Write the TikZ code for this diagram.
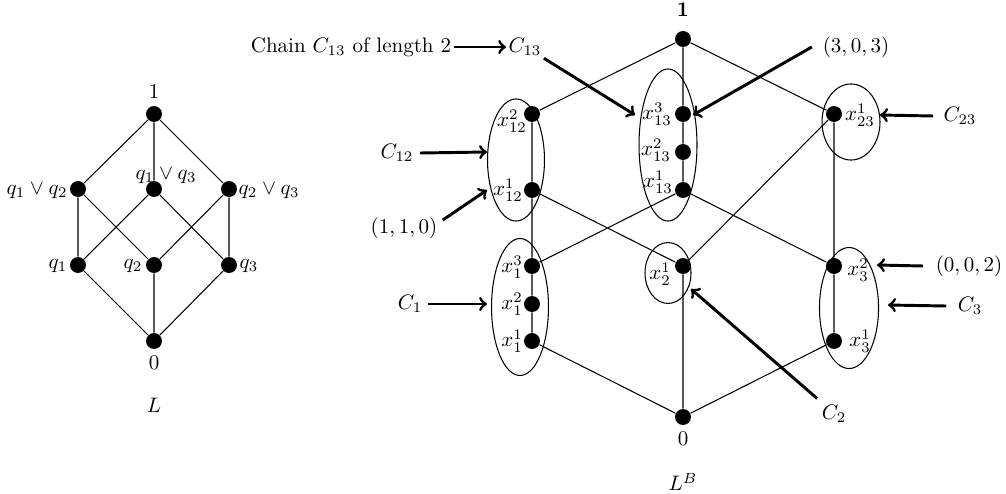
\documentclass[tikz,border=0pt]{standalone}
\usetikzlibrary{shapes.geometric}
\begin{document}
\begin{tikzpicture}[x=0.476pt,y=-0.476pt,
 dot/.style={circle,fill=black,inner sep=0pt,minimum size=7.6pt},
 ln/.style={line width=0.5pt},
 arr/.style={line width=1.4pt,->},
 chainell/.style={ellipse,draw,line width=0.5pt,inner sep=0pt},
 lab/.style={inner sep=1pt},
 xlab/.style={inner sep=0pt}]
\path[use as bounding box] (0,0) rectangle (1006,493);
% ---------------- left lattice L
\node[dot] (L1) at (154,114) {};
\node[dot] (L12) at (78,189) {};
\node[dot] (L13) at (154,189) {};
\node[dot] (L23) at (229,189) {};
\node[dot] (Lq1) at (78,265) {};
\node[dot] (Lq2) at (154,265) {};
\node[dot] (Lq3) at (229,265) {};
\node[dot] (L0) at (154,341) {};
\draw[ln] (L1) -- (L12) (L1) -- (L13) (L1) -- (L23)
 (L12) -- (Lq1) (L12) -- (Lq2) (L13) -- (Lq1) (L13) -- (Lq3)
 (L23) -- (Lq2) (L23) -- (Lq3)
 (Lq1) -- (L0) (Lq2) -- (L0) (Lq3) -- (L0);
\node[lab] (tL1) at (154,92) {$1$};
\node[xlab] (tL12) at (37,191) {$q_1\vee q_2$};
\node[xlab] (tL13) at (166,176) {$q_1\vee q_3$};
\node[xlab] (tL23) at (269,191) {$q_2\vee q_3$};
\node[xlab] (tq1) at (58,266) {$q_1$};
\node[xlab] (tq2) at (133,266) {$q_2$};
\node[xlab] (tq3) at (249,266) {$q_3$};
\node[lab] (tL0) at (154,363) {$0$};
\node[lab] (tL) at (154,405) {$L$};
% ---------------- right lattice L^B
\node[chainell,minimum width=27.1pt,minimum height=58.1pt] (E12) at (516,160) {};
\node[chainell,minimum width=27.6pt,minimum height=72.4pt] (E13) at (668,145) {};
\node[chainell,minimum width=27.6pt,minimum height=36.2pt] (E23) at (851,122) {};
\node[chainell,minimum width=27.1pt,minimum height=65.2pt] (E1) at (520,307) {};
\node[chainell,minimum width=21.9pt,minimum height=29.0pt] (E2) at (668,273) {};
\node[chainell,minimum width=28.1pt,minimum height=57.6pt] (E3) at (849,308) {};
\node[dot] (top) at (683,39) {};
\node[dot] (a2) at (532,114) {};
\node[dot] (a1) at (532,190) {};
\node[dot] (b3) at (683,114) {};
\node[dot] (b2) at (683,152) {};
\node[dot] (b1) at (683,190) {};
\node[dot] (c1) at (834,114) {};
\node[dot] (d3) at (532,266) {};
\node[dot] (d2) at (532,304) {};
\node[dot] (d1) at (532,341) {};
\node[dot] (e1) at (683,266) {};
\node[dot] (f2) at (834,266) {};
\node[dot] (f1) at (834,341) {};
\node[dot] (bot) at (683,417) {};
\draw[ln] (top) -- (a2) (top) -- (b3) (top) -- (c1)
 (a2) -- (a1) (a1) -- (d3) (d3) -- (d2) (d2) -- (d1)
 (b3) -- (b2) (b2) -- (b1) (c1) -- (f2) (f2) -- (f1)
 (e1) -- (bot) (a1) -- (e1) (d3) -- (b1) (b1) -- (f2) (e1) -- (c1)
 (d1) -- (bot) (f1) -- (bot);
\node[xlab] (ta2) at (512,121) {$x^2_{12}$};
\node[xlab] (ta1) at (508,190) {$x^1_{12}$};
\node[xlab] (tb3) at (657,114) {$x^3_{13}$};
\node[xlab] (tb2) at (656,150) {$x^2_{13}$};
\node[xlab] (tb1) at (658,182) {$x^1_{13}$};
\node[xlab] (tc1) at (860,115) {$x^1_{23}$};
\node[xlab] (td3) at (512,267) {$x^3_1$};
\node[xlab] (td2) at (512,304) {$x^2_1$};
\node[xlab] (td1) at (512,341) {$x^1_1$};
\node[xlab] (te1) at (660,274) {$x^1_2$};
\node[xlab] (tf2) at (858,270) {$x^2_3$};
\node[xlab] (tf1) at (860,341) {$x^1_3$};
\node[lab] (ttop) at (683,10) {$\mathbf{1}$};
\node[lab] (tbot) at (683,439) {$0$};
\node[lab] (tLB) at (683,482) {$L^B$};
% ---------------- annotations
\node[lab] (chainlab) at (351,47) {Chain $C_{13}$ of length 2};
\node[lab] (c13lab) at (525,47) {$C_{13}$};
\node[lab] (l303) at (856,47) {$(3,0,3)$};
\node[lab] (c12lab) at (397,153) {$C_{12}$};
\node[lab] (l110) at (404,228) {$(1,1,0)$};
\node[lab] (c23lab) at (960,116) {$C_{23}$};
\node[lab] (l002) at (969,266) {$(0,0,2)$};
\node[lab] (c3lab) at (970,306) {$C_3$};
\node[lab] (c1lab) at (410,304) {$C_1$};
\node[lab] (c2lab) at (834,414) {$C_2$};
\coordinate (t13) at (635,115);
\coordinate (t303) at (693,115);
\coordinate (t12) at (487,152);
\coordinate (t110) at (487,190);
\coordinate (t23) at (880,115);
\coordinate (t002) at (877,265);
\coordinate (t3) at (888,305);
\coordinate (t1) at (487,304);
\coordinate (t2) at (691,289);
\draw[arr] (chainlab.east) -- (c13lab.west);
\draw[arr] (c13lab.south east) -- (t13);
\draw[arr] ([xshift=-4pt]l303.west) -- (t303);
\draw[arr] ([xshift=2pt]c12lab.east) -- (t12);
\draw[arr] ([xshift=1.4pt,yshift=3.8pt]l110.east) -- (t110);
\draw[arr] ([xshift=-3.8pt]c23lab.west) -- (t23);
\draw[arr] ([xshift=-4.8pt]l002.west) -- (t002);
\draw[arr] ([xshift=-4.3pt]c3lab.west) -- (t3);
\draw[arr] ([xshift=1.4pt]c1lab.east) -- (t1);
\draw[arr] ([xshift=-1pt,yshift=2pt]c2lab.north west) -- (t2);
\end{tikzpicture}
\end{document}
